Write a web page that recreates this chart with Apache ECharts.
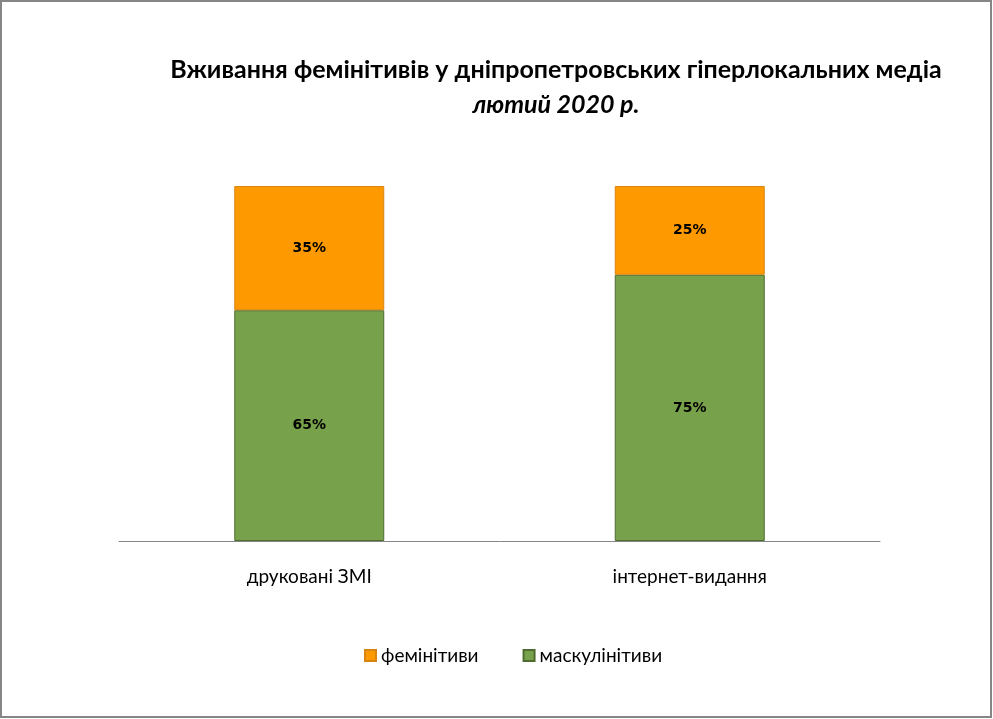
<!DOCTYPE html>
<html>
<head>
<meta charset="utf-8">
<script src="https://cdn.jsdelivr.net/npm/echarts@6/dist/echarts.min.js"></script>
<style>
  html, body { margin: 0; padding: 0; background: #fff; }
  #chart { width: 993px; height: 719px; }
</style>
</head>
<body>
<div id="chart"></div>
<script>
const categories = ['друковані ЗМІ', 'інтернет-видання'];
const masculineValues = [65, 75];
const feminineValues = [35, 25];

const chart = echarts.init(document.getElementById('chart'));

const labelStyle = {
  show: true,
  position: 'inside',
  formatter: (p) => p.value + '%',
  color: '#000',
  fontFamily: 'DejaVu Sans',
  fontWeight: 'bold',
  fontSize: 14,
};

const option = {
  animation: false,
  backgroundColor: '#fff',
  title: {
    text: 'Вживання фемінітивів у дніпропетровських гіперлокальних медіа',
    subtext: 'лютий 2020 р.',
    left: 551,
    top: 52,
    textAlign: 'center',
    itemGap: 10,
    textStyle: {
      fontFamily: 'Lato',
      fontWeight: 'bold',
      fontSize: 25,
      color: '#000',
    },
    subtextStyle: {
      fontFamily: 'Lato',
      fontWeight: 'bold',
      fontStyle: 'italic',
      fontSize: 25,
      color: '#000',
    },
  },
  legend: {
    bottom: 49,
    left: 359,
    itemWidth: 11,
    itemHeight: 11,
    itemGap: 44,
    icon: 'rect',
    selectedMode: false,
    textStyle: { fontFamily: 'Lato', fontSize: 19, color: '#000' },
    data: ['фемінітиви', 'маскулінітиви'],
  },
  grid: { left: 119, right: 113, top: 186, bottom: 178 },
  xAxis: {
    type: 'category',
    data: categories,
    axisTick: { show: false },
    axisLine: { lineStyle: { color: '#868686', width: 1 } },
    axisLabel: { margin: 26, fontFamily: 'Lato', fontSize: 19, color: '#000' },
  },
  yAxis: {
    type: 'value',
    min: 0,
    max: 100,
    show: false,
  },
  series: [
    {
      name: 'маскулінітиви',
      type: 'bar',
      stack: 'media',
      barWidth: 150,
      data: masculineValues,
      itemStyle: { color: '#77A14A', borderColor: '#4F6B30', borderWidth: 1 },
      label: labelStyle,
    },
    {
      name: 'фемінітиви',
      type: 'bar',
      stack: 'media',
      barWidth: 150,
      data: feminineValues,
      itemStyle: { color: '#FF9900', borderColor: '#D88410', borderWidth: 1 },
      label: labelStyle,
    },
  ],
  graphic: [
    {
      type: 'rect',
      shape: { x: 1, y: 1, width: 990, height: 716 },
      style: { fill: null, stroke: '#868686', lineWidth: 2 },
      silent: true,
    },
  ],
};

chart.setOption(option);
</script>
</body>
</html>
